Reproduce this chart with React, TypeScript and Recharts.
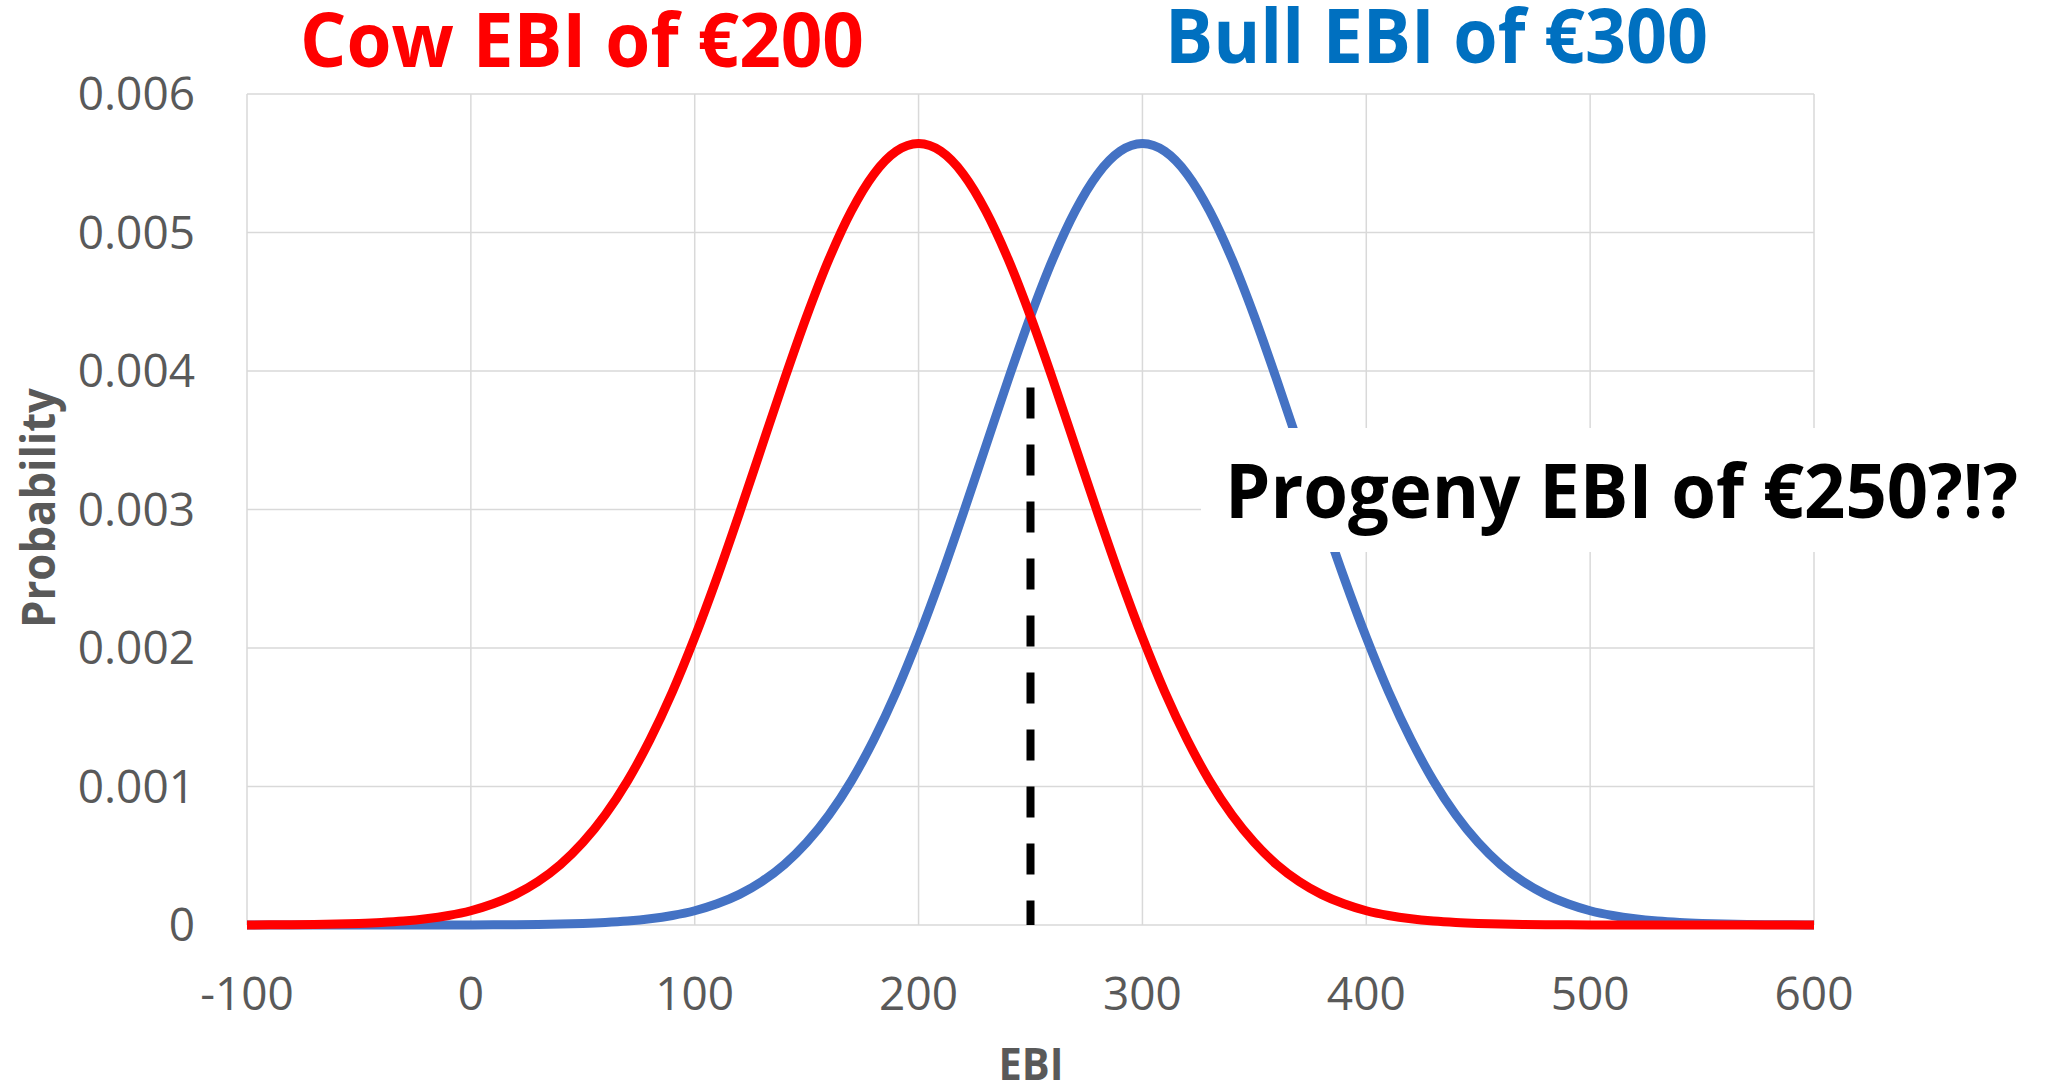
import { LineChart, Line, XAxis, YAxis, CartesianGrid, ReferenceLine } from 'recharts';

document.body.style.margin = '0';

// EBI values on the x axis (step 10)
const ebi = [
  -100, -90, -80, -70, -60, -50, -40, -30, -20, -10,
  0, 10, 20, 30, 40, 50, 60, 70, 80, 90,
  100, 110, 120, 130, 140, 150, 160, 170, 180, 190,
  200, 210, 220, 230, 240, 250, 260, 270, 280, 290,
  300, 310, 320, 330, 340, 350, 360, 370, 380, 390,
  400, 410, 420, 430, 440, 450, 460, 470, 480, 490,
  500, 510, 520, 530, 540, 550, 560, 570, 580, 590,
  600,
];

// cow curve, peak at 200
const cowProb = [
  0.0000007, 0.0000012, 0.0000022, 0.0000038, 0.0000065, 0.0000109, 0.0000178, 0.0000284, 0.0000446, 0.0000686,
  0.000103, 0.000153, 0.000221, 0.000314, 0.000436, 0.000595, 0.000795, 0.001041, 0.001337, 0.001682,
  0.002076, 0.00251, 0.002975, 0.003456, 0.003936, 0.004394, 0.004808, 0.005156, 0.005421, 0.005586,
  0.005642, 0.005586, 0.005421, 0.005156, 0.004808, 0.004394, 0.003936, 0.003456, 0.002975, 0.00251,
  0.002076, 0.001682, 0.001337, 0.001041, 0.000795, 0.000595, 0.000436, 0.000314, 0.000221, 0.000153,
  0.000103, 0.0000686, 0.0000446, 0.0000284, 0.0000178, 0.0000109, 0.0000065, 0.0000038, 0.0000022, 0.0000012,
  0.0000007, 0.0000004, 0.0000002, 0.0000001, 0.0000001, 0, 0, 0, 0, 0,
  0,
];

// bull curve, peak at 300
const bullProb = [
  0, 0, 0, 0, 0, 0, 0.0000001, 0.0000001, 0.0000002, 0.0000004,
  0.0000007, 0.0000012, 0.0000022, 0.0000038, 0.0000065, 0.0000109, 0.0000178, 0.0000284, 0.0000446, 0.0000686,
  0.000103, 0.000153, 0.000221, 0.000314, 0.000436, 0.000595, 0.000795, 0.001041, 0.001337, 0.001682,
  0.002076, 0.00251, 0.002975, 0.003456, 0.003936, 0.004394, 0.004808, 0.005156, 0.005421, 0.005586,
  0.005642, 0.005586, 0.005421, 0.005156, 0.004808, 0.004394, 0.003936, 0.003456, 0.002975, 0.00251,
  0.002076, 0.001682, 0.001337, 0.001041, 0.000795, 0.000595, 0.000436, 0.000314, 0.000221, 0.000153,
  0.000103, 0.0000686, 0.0000446, 0.0000284, 0.0000178, 0.0000109, 0.0000065, 0.0000038, 0.0000022, 0.0000012,
  0.0000007,
];

const xTicks = [-100, 0, 100, 200, 300, 400, 500, 600];
const yTicks = [0, 0.001, 0.002, 0.003, 0.004, 0.005, 0.006];

const progenyEbi = 250;
const progenyTop = 0.00388;

const data = ebi.map((x, i) => ({ ebi: x, cow: cowProb[i], bull: bullProb[i] }));

const tickStyle = { fill: '#595959', fontSize: 46, fontFamily: 'Open Sans' };

export default function App() {
  return (
    <div style={{ position: 'relative', width: 2057, height: 1089, background: '#fff' }}>
      <LineChart width={2057} height={1089} data={data} margin={{ top: 94, right: 243, bottom: 0, left: 0 }}>
        <CartesianGrid stroke="#D9D9D9" strokeWidth={1.5} />
        <XAxis
          dataKey="ebi"
          type="number"
          domain={[-100, 600]}
          ticks={xTicks}
          interval={0}
          height={164}
          tickLine={false}
          tickSize={0}
          tickMargin={52}
          axisLine={false}
          tick={tickStyle}
        />
        <YAxis
          type="number"
          domain={[0, 0.006]}
          ticks={yTicks}
          interval={0}
          width={247}
          tickLine={false}
          tickSize={0}
          tickMargin={52}
          axisLine={false}
          tick={tickStyle}
          tickFormatter={(v) => String(v)}
        />
        <Line type="monotone" dataKey="bull" stroke="#4472C4" strokeWidth={9} dot={false} isAnimationActive={false} />
        <Line type="monotone" dataKey="cow" stroke="#FF0000" strokeWidth={9} dot={false} isAnimationActive={false} />
        <ReferenceLine
          segment={[{ x: progenyEbi, y: progenyTop }, { x: progenyEbi, y: 0 }]}
          stroke="#000"
          strokeWidth={8}
          strokeDasharray="31 26"
        />
      </LineChart>
      <svg width={2057} height={1089} style={{ position: 'absolute', left: 0, top: 0, pointerEvents: 'none' }}>
        <g fontFamily="Open Sans" fontWeight={700}>
          <text x={300} y={67} fontSize={75} fill="#FF0000" textLength={564} lengthAdjust="spacingAndGlyphs">
            Cow EBI of €200
          </text>
          <text x={1165} y={63} fontSize={75} fill="#0070C0" textLength={543} lengthAdjust="spacingAndGlyphs">
            Bull EBI of €300
          </text>
          <rect x={1201} y={428} width={840} height={124} fill="#fff" />
          <text x={1225} y={518} fontSize={75} fill="#000" textLength={793} lengthAdjust="spacingAndGlyphs">
            Progeny EBI of €250?!?
          </text>
          <text x={1031} y={1080} fontSize={45} fill="#595959" textAnchor="middle" textLength={65} lengthAdjust="spacingAndGlyphs">
            EBI
          </text>
          <text
            x={55}
            y={508}
            fontSize={46}
            fill="#595959"
            textAnchor="middle"
            transform="rotate(-90 55 508)"
            textLength={240}
            lengthAdjust="spacingAndGlyphs"
          >
            Probability
          </text>
        </g>
      </svg>
    </div>
  );
}
